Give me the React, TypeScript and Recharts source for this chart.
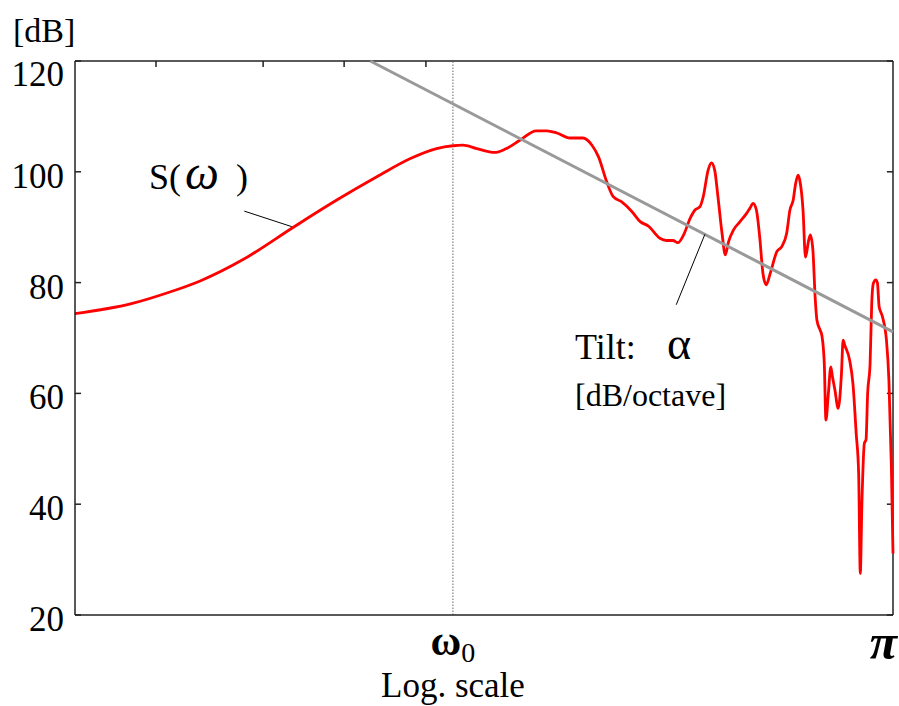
import React from 'react';
import { LineChart, Line, XAxis, YAxis, ReferenceLine } from 'recharts';

const FONT = '"Liberation Serif", "Times New Roman", Times, serif';

// normalized log-frequency position (0 = left edge, 1 = pi)
const logPos = [
  0, 0.069, 0.116, 0.153, 0.206, 0.267, 0.32, 0.369, 0.41, 0.442, 0.462, 0.474,
  0.491, 0.513, 0.526, 0.544, 0.564, 0.577, 0.589, 0.605, 0.621, 0.632, 0.64,
  0.65, 0.658, 0.668, 0.681, 0.691, 0.701, 0.715, 0.723, 0.731, 0.737, 0.744,
  0.752, 0.758, 0.764, 0.768, 0.774, 0.778, 0.782, 0.786, 0.791, 0.795, 0.799,
  0.805, 0.813, 0.821, 0.825, 0.829, 0.833, 0.837, 0.841, 0.845, 0.85, 0.858,
  0.864, 0.87, 0.874, 0.878, 0.881, 0.884, 0.886, 0.89, 0.893, 0.897, 0.899,
  0.902, 0.905, 0.907, 0.911, 0.913, 0.916, 0.918, 0.921, 0.924, 0.926, 0.929,
  0.933, 0.937, 0.939, 0.941, 0.947, 0.951, 0.955, 0.958, 0.96, 0.962, 0.965,
  0.967, 0.969, 0.972, 0.974, 0.976, 0.979, 0.981, 0.983, 0.987, 0.992, 0.995,
  0.998, 1.0,
];
// S(omega) level in dB
const levelDb = [
  74.4, 76.2, 78.3, 80.3, 84.2, 90.0, 94.9, 99.1, 102.4, 104.2, 104.7, 104.8,
  104.2, 103.5, 104.1, 105.7, 107.4, 107.4, 107.0, 106.1, 106.1, 104.8, 102.7,
  98.2, 95.5, 94.6, 92.8, 91.0, 90.2, 88.0, 87.6, 87.6, 87.2, 88.6,
  91.6, 93.1, 93.7, 95.5, 100.3, 101.6, 100.3, 95.5, 88.9, 85.0, 87.4,
  89.5, 91.0, 92.5, 93.4, 94.3, 93.1, 88.3, 81.7, 79.6, 81.7, 85.6,
  86.5, 88.9, 93.1, 94.9, 97.9, 99.4, 98.5, 93.1, 84.6, 87.7, 88.6,
  86.0, 76.9, 73.2, 71.4, 70.5, 65.4, 55.2, 60.0, 64.8, 63.0, 60.6,
  57.3, 63.6, 69.6, 68.7, 66.0, 61.8, 52.8, 45.6, 27.5, 40.2, 51.0,
  51.6, 60.0, 65.4, 76.3, 79.9, 80.5, 79.9, 75.7, 73.9, 69.6, 62.4,
  46.8, 31.1,
];

// tilt line (alpha dB/octave)
const tiltPos = [0.361, 1.0];
const tiltDb = [120, 71.1];

const omega0Pos = 0.462;
const piPos = 1.0;
const xMin = 0;
const xMax = 1;
const yMin = 20;
const yMax = 120;
const yTicks = [20, 40, 60, 80, 100, 120];
const topTicks = [0.099, 0.23, 0.329, 0.429];

// annotation leader lines [pos, dB]
const sLeader = [
  [0.207, 92.9],
  [0.265, 90.1],
];
const tiltLeader = [
  [0.77, 88.7],
  [0.735, 76.0],
];

const spectrum = logPos.map((u, i) => ({ u, v: levelDb[i] }));
const tilt = tiltPos.map((u, i) => ({ u, v: tiltDb[i] }));

const AXIS = '#222';

const LeftTick = (props: any) => {
  const { x, y, payload } = props;
  const dy = payload.value === yMax ? 13 : 4.5;
  return (
    <g>
      <line x1={x + 11} x2={x + 17} y1={y} y2={y} stroke={AXIS} strokeWidth={1.5} />
      <text
        x={x}
        y={y + dy}
        textAnchor="end"
        dominantBaseline="central"
        fontSize={35}
        fontFamily={FONT}
        fill="#000"
      >
        {payload.value}
      </text>
    </g>
  );
};

const BottomTick = (props: any) => {
  const { x, y, payload } = props;
  if (payload.value === omega0Pos) {
    return (
      <g>
        <text x={x} y={y + 40} textAnchor="middle" fontFamily={FONT} fill="#000">
          <tspan fontSize={42} fontWeight="bold">ω</tspan>
          <tspan fontSize={28} dy={7}>0</tspan>
        </text>
        <text x={x} y={y + 82} textAnchor="middle" fontFamily={FONT} fontSize={35} fill="#000">
          Log. scale
        </text>
      </g>
    );
  }
  return (
    <text
      x={x + 4}
      y={y + 44}
      textAnchor="end"
      fontFamily={FONT}
      fontSize={50}
      fontStyle="italic"
      fontWeight="bold"
      fill="#000"
    >
      π
    </text>
  );
};

export default function App() {
  const dv = (yMax - yMin) * 0.011; // inward tick length in data units (vertical)
  const du = (xMax - xMin) * 0.0075; // inward tick length in data units (horizontal)
  return (
    <div style={{ position: 'absolute', left: 0, top: 0, width: 899, height: 706, background: '#fff' }}>
      <LineChart width={899} height={706} margin={{ top: 61, right: 6, bottom: 0, left: 0 }}>
        <XAxis
          dataKey="u"
          type="number"
          domain={[xMin, xMax]}
          ticks={[omega0Pos, piPos]}
          height={91}
          tickSize={0}
          tickMargin={0}
          tickLine={false}
          axisLine={{ stroke: AXIS, strokeWidth: 1.5 }}
          tick={<BottomTick />}
          interval={0}
        />
        <YAxis
          type="number"
          domain={[yMin, yMax]}
          ticks={yTicks}
          width={75}
          tickSize={0}
          tickMargin={11}
          tickLine={false}
          axisLine={{ stroke: AXIS, strokeWidth: 1.5 }}
          tick={<LeftTick />}
          interval={0}
        />
        {/* top and right frame edges */}
        <ReferenceLine y={yMax} stroke={AXIS} strokeWidth={1.5} ifOverflow="visible" />
        <ReferenceLine x={xMax} stroke={AXIS} strokeWidth={1.5} ifOverflow="visible" />
        {/* inward ticks on top edge */}
        {topTicks.map((t) => (
          <ReferenceLine
            key={'t' + t}
            segment={[
              { x: t, y: yMax },
              { x: t, y: yMax - dv },
            ]}
            stroke={AXIS}
            strokeWidth={1.5}
            ifOverflow="visible"
          />
        ))}
        {/* inward ticks on right edge */}
        {yTicks.map((t) => (
          <ReferenceLine
            key={'r' + t}
            segment={[
              { x: xMax, y: t },
              { x: xMax - du, y: t },
            ]}
            stroke={AXIS}
            strokeWidth={1.5}
            ifOverflow="visible"
          />
        ))}
        <ReferenceLine x={omega0Pos} stroke="#666" strokeWidth={1} strokeDasharray="1.5 1.5" />
        <Line
          data={spectrum}
          dataKey="v"
          type="monotone"
          stroke="#ff0000"
          strokeWidth={2.8}
          dot={false}
          activeDot={false}
          isAnimationActive={false}
        />
        <Line
          data={tilt}
          dataKey="v"
          type="linear"
          stroke="#999999"
          strokeWidth={3}
          dot={false}
          activeDot={false}
          isAnimationActive={false}
        />
        <ReferenceLine
          segment={[
            { x: sLeader[0][0], y: sLeader[0][1] },
            { x: sLeader[1][0], y: sLeader[1][1] },
          ]}
          stroke="#000"
          strokeWidth={1}
        />
        <ReferenceLine
          segment={[
            { x: tiltLeader[0][0], y: tiltLeader[0][1] },
            { x: tiltLeader[1][0], y: tiltLeader[1][1] },
          ]}
          stroke="#000"
          strokeWidth={1}
        />
      </LineChart>
      <svg
        width={899}
        height={706}
        style={{ position: 'absolute', left: 0, top: 0, pointerEvents: 'none' }}
      >
        <text x={13} y={42} fontFamily={FONT} fontSize={34} fill="#000">
          [dB]
        </text>
        <text x={149} y={189} fontFamily={FONT} fontSize={36} fill="#000">
          <tspan>S(</tspan>
          <tspan fontStyle="italic" fontSize={48} dx={4}>ω</tspan>
          <tspan dx={8}> )</tspan>
        </text>
        <text x={575} y={359} fontFamily={FONT} fontSize={36} fill="#000">
          <tspan>Tilt:</tspan>
          <tspan x={667} fontSize={46}>α</tspan>
        </text>
        <text x={575} y={406} fontFamily={FONT} fontSize={32} fill="#000">
          [dB/octave]
        </text>
      </svg>
    </div>
  );
}
